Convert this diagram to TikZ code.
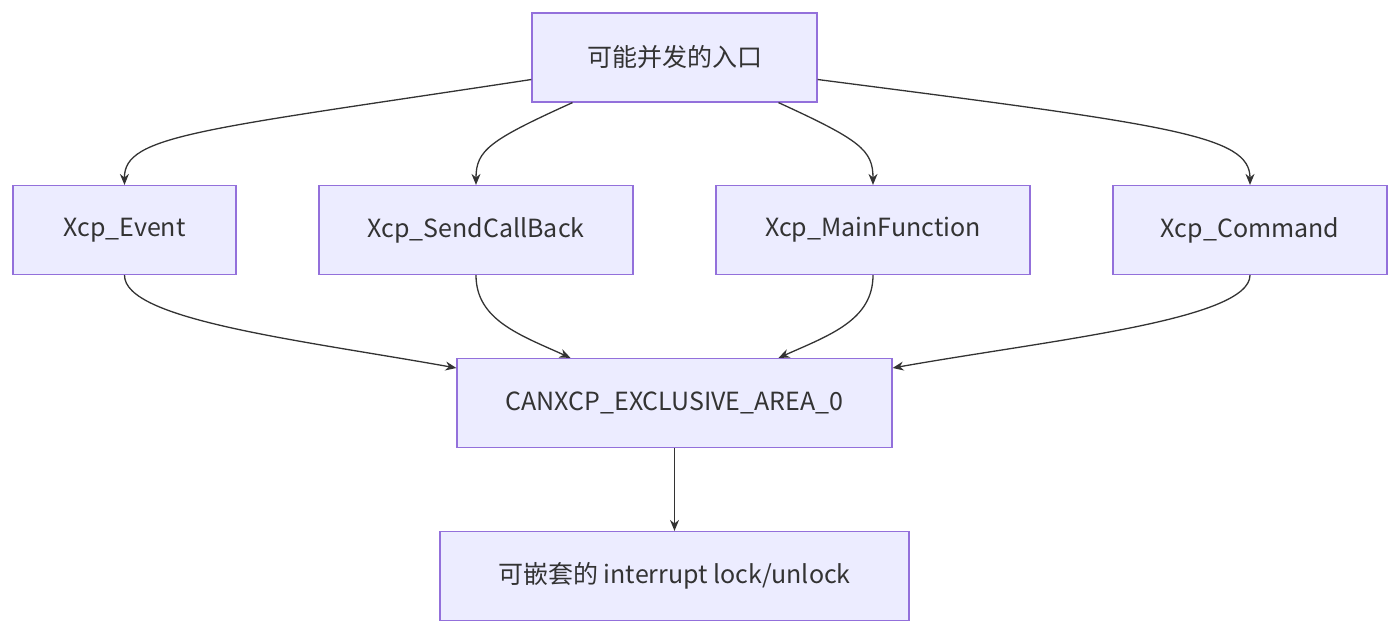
\documentclass[tikz,border=0pt]{standalone}
\usepackage{fontspec}
\setmainfont{Noto Sans CJK SC}
\usetikzlibrary{arrows.meta}
\definecolor{boxfill}{HTML}{ECECFF}
\definecolor{boxline}{HTML}{9370DB}
\definecolor{linkcol}{HTML}{333333}
\begin{document}
\begin{tikzpicture}[x=1pt,y=-1pt,
    box/.style={draw=boxline,fill=boxfill,line width=1.2pt,minimum height=89pt,inner sep=0pt,font=\fontsize{25}{30}\selectfont,text=linkcol},
    link/.style={draw=linkcol,line width=1.3pt,-{Stealth[length=11pt,width=9pt]}}]
  \useasboundingbox (0,0) rectangle (1400,634);
  \begin{scope}[every node/.style={box}]
    \node[minimum width=285pt] (entry) at (674.5,57.5) {可能并发的入口};
    \node[minimum width=223pt] (event) at (124.5,230) {Xcp\_Event};
    \node[minimum width=314pt] (sendcb) at (476,230) {Xcp\_SendCallBack};
    \node[minimum width=314pt] (mainfn) at (873,230) {Xcp\_MainFunction};
    \node[minimum width=274pt] (cmd) at (1250,230) {Xcp\_Command};
    \node[minimum width=435pt] (area) at (674.5,403) {CANXCP\_EXCLUSIVE\_AREA\_0};
    \node[minimum width=469pt] (lock) at (674.5,576) {可嵌套的 interrupt lock/unlock};
  \end{scope}
  \begin{scope}[every path/.style={link}]
    \draw ([yshift=-22pt]entry.west) .. controls (200,130) and (124,135) .. (event.north);
    \draw ([xshift=-102pt]entry.south) .. controls (490,140) and (476,150) .. (sendcb.north);
    \draw ([xshift=104pt]entry.south) .. controls (860,140) and (873,150) .. (mainfn.north);
    \draw ([yshift=-22pt]entry.east) .. controls (1170,125) and (1250,135) .. (cmd.north);
    \draw (event.south) .. controls (124,320) and (300,340) .. ([yshift=35pt]area.west);
    \draw (sendcb.south) .. controls (476,320) and (520,335) .. ([xshift=-104pt]area.north);
    \draw (mainfn.south) .. controls (873,320) and (830,335) .. ([xshift=104pt]area.north);
    \draw (cmd.south) .. controls (1250,320) and (1050,340) .. ([yshift=35pt]area.east);
    \draw (area.south) -- (lock.north);
  \end{scope}
\end{tikzpicture}
\end{document}
